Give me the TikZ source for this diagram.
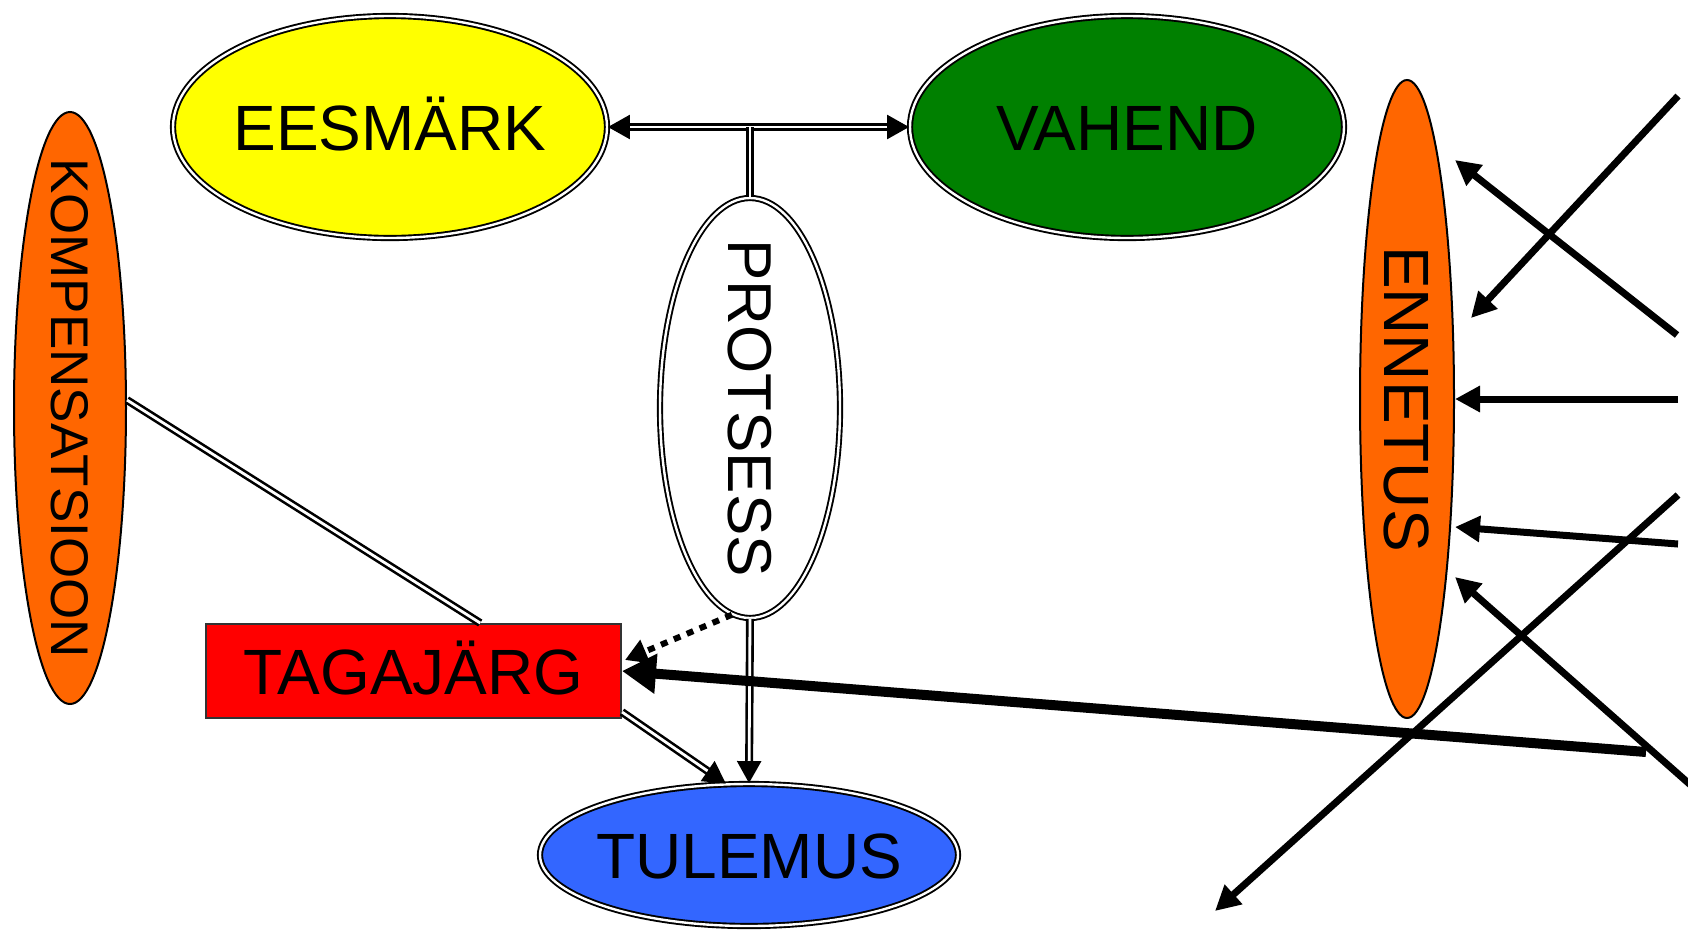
\documentclass[tikz,border=0pt]{standalone}
\usepackage{fontspec}
\setmainfont{Liberation Sans}
\usetikzlibrary{shapes.geometric,arrows.meta,calc}

\definecolor{goalyellow}{RGB}{255,255,0}
\definecolor{meansgreen}{RGB}{0,128,0}
\definecolor{warnorange}{RGB}{255,102,0}
\definecolor{resultblue}{RGB}{51,102,255}

\tikzset{
	big/.style={font=\fontsize{64}{70}\selectfont, text height=46pt, text depth=0pt},
	mid/.style={font=\fontsize{62}{68}\selectfont, text height=44pt, text depth=0pt},
	small/.style={font=\fontsize{53}{60}\selectfont, text height=38pt, text depth=0pt},
	oval/.style={ellipse, draw=black, line width=2pt, inner sep=0pt},
	dbloval/.style={oval, double=white, line width=1.9pt, double distance=2.4pt},
	dbl/.style={draw=black, double=white, line width=2.6pt, double distance=2.8pt},
	tip/.style={-{Triangle[length=22pt,width=24pt]}},
	pointer/.style={black, line width=7pt, -{Triangle[length=25pt,width=25pt]}},
}

\begin{document}
\begin{tikzpicture}[x=1pt, y=-1pt]
			\useasboundingbox (0, 0) rectangle (1688, 930);

			% ovals and box
			\node[dbloval, fill=goalyellow, minimum width=434pt, minimum height=222pt, big]	(eesm) at (390, 127) {\makebox[0pt]{EESMÄRK}};
			\node[dbloval, fill=meansgreen, minimum width=434pt, minimum height=222pt, big]	(vah) at (1127, 127) {\makebox[0pt]{VAHEND}};
			\node[dbloval, fill=white, minimum width=180pt, minimum height=420pt, label={[mid, rotate=-90]center:PROTSESS}]	(pro) at (750, 408) {};
			\node[oval, fill=warnorange, minimum width=112pt, minimum height=592pt, label={[small, rotate=-90]center:KOMPENSATSIOON}]	(komp) at (70, 408) {};
			\node[oval, fill=warnorange, minimum width=94pt, minimum height=638pt, label={[big, rotate=-90]center:ENNETUS}]	(enn) at (1407, 399) {};
			\node[draw=black!80, line width=2pt, fill=red, minimum width=415pt, minimum height=94pt, inner sep=0pt, big]	(tag) at (413.5, 671) {TAGAJÄRG};
			\node[dbloval, fill=resultblue, minimum width=418pt, minimum height=142pt, big]	(tul) at (749, 855) {\makebox[0pt]{TULEMUS}};

			% double connectors
			\draw[dbl, {Triangle[length=22pt,width=24pt]}-{Triangle[length=22pt,width=24pt]}]	(eesm.east) -- (vah.west);
			\draw[dbl]		(pro.north) -- (pro.north |- eesm.east);
			\draw[dbl, tip]	(pro.south) -- (tul.north);
			\draw[dbl, tip]	($(tag.south east)+(0, -7)$) -- (tul.108);
			\draw[dbl]		(komp.8) -- ($(tag.north west)!0.66!(tag.north east)$);

			% dotted and heavy arrows into TAGAJÄRG
			\draw[black, line width=6pt, dash pattern=on 7pt off 7pt, -{Triangle[length=22pt,width=24pt]}]	(pro.-95) -- ($(tag.east)+(3, -11)$);
			\coordinate (far) at (1646, 752);
			\draw[black, line width=10pt, -{Triangle[length=34pt,width=38pt]}]	(far) -- (tag.east);

			% arrows at ENNETUS
			\coordinate (s1) at (1678, 96);
			\coordinate (s2) at (1677, 335);
			\coordinate (s3) at (1678, 399);
			\coordinate (s4) at (1678, 544);
			\coordinate (s5) at (1694, 788);
			\coordinate (s6) at (1678, 495);
			\coordinate (away) at (1215, 911);
			\draw[pointer]	(s1) -- ($(enn.east)+(16, -81)$);
			\draw[pointer]	(s2) -- ($(enn.east)+(0, -239)$);
			\draw[pointer]	(s3) -- (enn.east);
			\draw[pointer]	(s4) -- ($(enn.east)+(0, 128)$);
			\draw[pointer]	(s5) -- ($(enn.east)+(0, 178)$);
			\draw[pointer]	(s6) -- (away);
		\end{tikzpicture}
\end{document}
